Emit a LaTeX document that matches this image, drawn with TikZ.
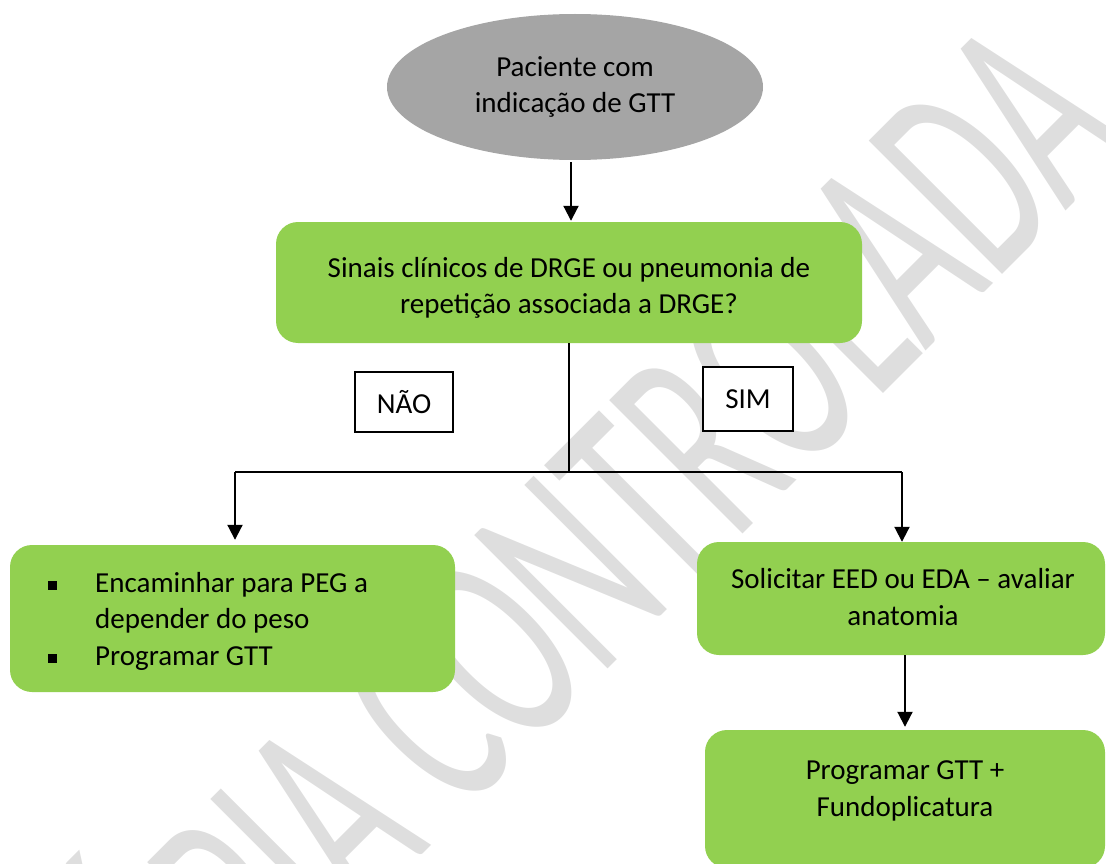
\documentclass[tikz,border=0pt]{standalone}
\usepackage{fontspec}
\setmainfont{Carlito}
\usetikzlibrary{shapes.geometric,arrows.meta}
\definecolor{boxgreen}{HTML}{92D050}
\definecolor{ovalgray}{HTML}{A5A5A5}
\definecolor{wmgray}{HTML}{DEDEDE}
\begin{document}
\begin{tikzpicture}[x=1pt,y=-1pt,
  txt/.style={font=\fontsize{29}{36.5}\selectfont, text=black, inner sep=0pt},
  greenbox/.style={fill=boxgreen, rounded corners=22pt, inner sep=0pt},
  lblbox/.style={txt, draw=black, line width=1.5pt, fill=white, inner sep=0pt},
  conn/.style={line width=2pt, draw=black},
  arr/.style={conn, -{Triangle[width=15pt,length=15pt]}},
  wm/.style={font=\fontsize{294}{294}\selectfont, text=wmgray, inner sep=0pt}]
\useasboundingbox (0,0) rectangle (1106,864);
\clip (0,0) rectangle (1106,864);
% watermark
\node[wm, rotate=45, xscale=0.57, anchor=base] (wmark) at (633,644) {CÓPIA CONTROLADA};
% nodes
\node[ellipse, fill=ovalgray, minimum width=376pt, minimum height=146pt, inner sep=0pt] (start) at (575,87) {};
\node[txt, align=center] (starttxt) at (575,87) {Paciente com\\indicação de GTT};
\node[greenbox, minimum width=586pt, minimum height=121pt] (q) at (569,282.5) {};
\node[txt, align=center] (qtxt) at (569,288) {Sinais clínicos de DRGE ou pneumonia de\\repetição associada a DRGE?};
\node[lblbox, minimum width=98pt, minimum height=60pt] (nao) at (404,402) {NÃO};
\node[lblbox, minimum width=90pt, minimum height=64pt] (sim) at (748,399) {SIM};
\node[greenbox, minimum width=445pt, minimum height=147pt] (left) at (232.5,618.5) {};
\node[txt, align=left, anchor=west] (lefttxt) at (95,621)
  {\llap{\rule[2pt]{9pt}{9pt}\hspace{38pt}}Encaminhar para PEG a\\depender do peso\\\llap{\rule[2pt]{9pt}{9pt}\hspace{38pt}}Programar GTT};
\node[greenbox, minimum width=408pt, minimum height=113pt] (r1) at (901,598.5) {};
\node[txt, align=center] (r1txt) at (903,597) {Solicitar EED ou EDA – avaliar\\anatomia};
\node[greenbox, minimum width=400pt, minimum height=138pt] (r2) at (905,799) {};
\node[txt, align=center] (r2txt) at (905,791) {Programar GTT +\\Fundoplicatura};
% connectors
\coordinate (j) at (569,472);
\coordinate (jl) at (235,472);
\coordinate (jr) at (902,472);
\draw[arr, shorten <=2pt, shorten >=1pt] (start.south -| 571,0) -- (q.north -| 571,0);
\draw[conn] (q.south) -- (j);
\draw[conn] (jl) -- (jr);
\draw[arr, shorten >=5pt] (jl) -- (jl |- left.north);
\draw[arr] (jr) -- (jr |- r1.north);
\draw[arr, shorten >=3pt] (r2.north |- r1.south) -- (r2.north);
\end{tikzpicture}
\end{document}
